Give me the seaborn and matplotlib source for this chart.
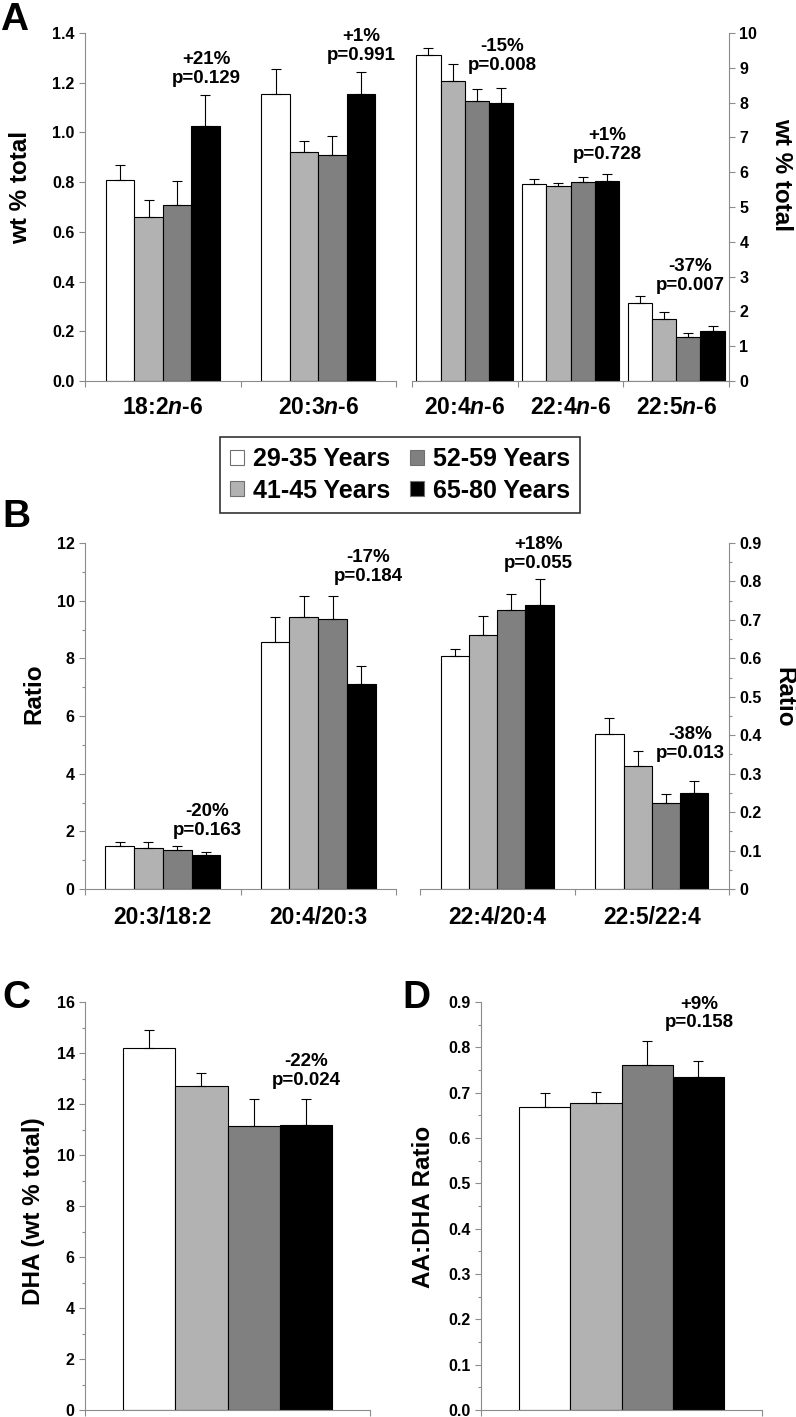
import numpy as np
import pandas as pd
import matplotlib
matplotlib.use("Agg")
import matplotlib.pyplot as plt
import seaborn as sns
from matplotlib.patches import Patch
from matplotlib.container import BarContainer
from matplotlib.ticker import MultipleLocator, FuncFormatter

# ---------------- data ----------------
groups = ["29-35 Years", "41-45 Years", "52-59 Years", "65-80 Years"]
group_colors = ["#ffffff", "#b2b2b2", "#808080", "#000000"]

# Panel A (left axis, wt % total)
a1_cats = ["18:2$\\mathit{n}$-6", "20:3$\\mathit{n}$-6"]
a1_means = [[0.809, 0.661, 0.707, 1.024], [1.153, 0.922, 0.908, 1.153]]
a1_sems = [[0.058, 0.067, 0.098, 0.127], [0.102, 0.043, 0.078, 0.092]]
a1_notes = ["+21%\np=0.129", "+1%\np=0.991"]

# Panel A (right axis, wt % total)
a2_cats = ["20:4$\\mathit{n}$-6", "22:4$\\mathit{n}$-6", "22:5$\\mathit{n}$-6"]
a2_means = [[9.36, 8.63, 8.06, 7.98], [5.66, 5.59, 5.73, 5.75], [2.25, 1.79, 1.27, 1.43]]
a2_sems = [[0.20, 0.47, 0.33, 0.45], [0.14, 0.11, 0.14, 0.20], [0.19, 0.18, 0.11, 0.14]]
a2_notes = ["-15%\np=0.008", "+1%\np=0.728", "-37%\np=0.007"]

# Panel B (left axis, ratio)
b1_cats = ["20:3/18:2", "20:4/20:3"]
b1_means = [[1.48, 1.42, 1.34, 1.17], [8.58, 9.44, 9.35, 7.12]]
b1_sems = [[0.15, 0.21, 0.14, 0.13], [0.84, 0.71, 0.80, 0.62]]
b1_notes = ["-20%\np=0.163", "-17%\np=0.184"]

# Panel B (right axis, ratio)
b2_cats = ["22:4/20:4", "22:5/22:4"]
b2_means = [[0.607, 0.660, 0.725, 0.739], [0.402, 0.320, 0.225, 0.249]]
b2_sems = [[0.016, 0.051, 0.043, 0.067], [0.043, 0.040, 0.022, 0.031]]
b2_notes = ["+18%\np=0.055", "-38%\np=0.013"]

# Panel C (DHA)
c_cats = [""]
c_means = [[14.20, 12.70, 11.13, 11.19]]
c_sems = [[0.69, 0.52, 1.07, 1.01]]
c_notes = ["-22%\np=0.024"]

# Panel D (AA:DHA ratio)
d_cats = [""]
d_means = [[0.669, 0.678, 0.762, 0.735]]
d_sems = [[0.030, 0.023, 0.051, 0.035]]
d_notes = ["+9%\np=0.158"]

# ---------------- style ----------------
sns.set_style("ticks")
plt.rcParams["font.family"] = ["Liberation Sans", "DejaVu Sans"]
plt.rcParams["font.weight"] = "bold"
plt.rcParams["axes.labelweight"] = "bold"
plt.rcParams["text.color"] = "black"
plt.rcParams["axes.labelcolor"] = "black"
plt.rcParams["xtick.labelcolor"] = "black"
plt.rcParams["ytick.labelcolor"] = "black"
plt.rcParams["mathtext.fontset"] = "custom"
plt.rcParams["mathtext.rm"] = "Liberation Sans:bold"
plt.rcParams["mathtext.it"] = "Liberation Sans:italic:bold"
plt.rcParams["mathtext.bf"] = "Liberation Sans:bold"

SPINE = "#8c8c8c"
W, H = 796, 1417
fig = plt.figure(figsize=(W / 100, H / 100), dpi=100)


def px_axes(x0, x1, y0, y1):
    return fig.add_axes([x0 / W, 1 - y1 / H, (x1 - x0) / W, (y1 - y0) / H])


def panel(ax, cats, means, sems, width, ylim, major, minor, fmt, side,
          ylabel, label_xy, notes, note_xy, xlabel_pad=10, tick_fs=11.5):
    rows = []
    for ci, c in enumerate(cats):
        for gi, g in enumerate(groups):
            rows.append({"cat": c, "group": g, "val": means[ci][gi]})
    df = pd.DataFrame(rows)
    sns.barplot(data=df, x="cat", y="val", hue="group", order=cats,
                hue_order=groups, palette=dict(zip(groups, group_colors)),
                saturation=1, width=width, edgecolor="black", linewidth=0.8,
                errorbar=None, legend=False, ax=ax, zorder=2)
    bar_conts = [c for c in ax.containers if isinstance(c, BarContainer)]
    # upper-only error bars at bar positions from the library
    for gi, cont in enumerate(bar_conts):
        for ci, bar in enumerate(cont.patches):
            xc = bar.get_x() + bar.get_width() / 2
            top = bar.get_height()
            ax.errorbar(xc, top, yerr=[[0], [sems[ci][gi]]], fmt="none",
                        ecolor="black", elinewidth=0.8, capsize=3.3,
                        capthick=0.8, zorder=3)
    n = len(cats)
    ax.set_xlim(-0.5, n - 0.5)
    ax.set_ylim(*ylim)
    ax.yaxis.set_major_locator(MultipleLocator(major))
    if minor:
        ax.yaxis.set_minor_locator(MultipleLocator(minor))
    ax.yaxis.set_major_formatter(FuncFormatter(fmt))
    ax.set_xticks(range(n))
    ax.set_xticklabels(cats, fontsize=16.5, fontweight="bold", color="black")
    ax.set_xticks(np.arange(-0.5, n, 1.0), minor=True)
    ax.tick_params(axis="x", which="major", length=0, pad=xlabel_pad)
    ax.tick_params(axis="x", which="minor", length=4, color=SPINE, width=0.8)
    ax.tick_params(axis="y", which="major", length=4, color=SPINE, width=0.8,
                   labelsize=tick_fs, labelcolor="black")
    ax.tick_params(axis="y", which="minor", length=2.5, color=SPINE, width=0.8)
    for lab in ax.get_yticklabels():
        lab.set_fontweight("bold")
    ax.set_xlabel("")
    ax.spines["top"].set_visible(False)
    ax.spines["bottom"].set_color(SPINE)
    ax.spines["bottom"].set_linewidth(0.8)
    if side == "right":
        ax.spines["left"].set_visible(False)
        ax.spines["right"].set_visible(True)
        ax.spines["right"].set_color(SPINE)
        ax.spines["right"].set_linewidth(0.8)
        ax.yaxis.tick_right()
        ax.yaxis.set_label_position("right")
        rot = -90
    else:
        ax.spines["right"].set_visible(False)
        ax.spines["left"].set_color(SPINE)
        ax.spines["left"].set_linewidth(0.8)
        rot = 90
    ax.set_ylabel(ylabel, fontsize=17.5, fontweight="bold", rotation=rot,
                  color="black")
    ax.yaxis.label.set_va("center")
    ax.yaxis.label.set_ha("center")
    ax.yaxis.set_label_coords(*label_xy)
    for txt, (nx, ny) in zip(notes, note_xy):
        ax.text(nx, ny, txt, ha="center", va="center", fontsize=13.5,
                fontweight="bold", linespacing=1.1, multialignment="center",
                color="black")


def fmt1(v, p):
    return f"{v:.1f}"


def fmt0(v, p):
    return f"{v:.0f}"


def fmt_r(v, p):
    return "0" if abs(v) < 1e-9 else f"{v:.1f}"


# Panel A
axA1 = px_axes(85, 396, 33, 381)
panel(axA1, a1_cats, a1_means, a1_sems, 0.733, (0, 1.4), 0.2, None, fmt1, "left",
      "wt % total", (-0.206, 0.555), a1_notes, [(0.278, 1.255), (1.275, 1.348)],
      xlabel_pad=11)
axA2 = px_axes(412, 729, 33, 381)
panel(axA2, a2_cats, a2_means, a2_sems, 0.918, (0, 10), 1, None, fmt0, "right",
      "wt % total", (1.167, 0.592), a2_notes,
      [(0.356, 9.34), (1.345, 6.78), (2.131, 3.02)], xlabel_pad=11)

# Panel B
axB1 = px_axes(85, 396, 543, 889)
panel(axB1, b1_cats, b1_means, b1_sems, 0.74, (0, 12), 2, 1, fmt0, "left",
      "Ratio", (-0.164, 0.564), b1_notes, [(0.285, 2.36), (1.320, 11.17)],
      xlabel_pad=12)
axB2 = px_axes(420, 729, 543, 889)
panel(axB2, b2_cats, b2_means, b2_sems, 0.73, (0, 0.9), 0.1, 0.05, fmt_r, "right",
      "Ratio", (1.178, 0.555), b2_notes, [(0.264, 0.871), (1.248, 0.377)],
      xlabel_pad=12)

# Panel C
axC = px_axes(85, 370, 1002, 1410)
panel(axC, c_cats, c_means, c_sems, 0.73, (0, 16), 2, 1, fmt0, "left",
      "DHA (wt % total)", (-0.179, 0.488), c_notes, [(0.275, 13.29)])

# Panel D
axD = px_axes(481, 762, 1002, 1410)
panel(axD, d_cats, d_means, d_sems, 0.726, (0, 0.9), 0.1, 0.05, fmt1, "left",
      "AA:DHA Ratio", (-0.206, 0.498), d_notes, [(0.276, 0.874)])

# Panel letters
for letter, x, y in [("A", 0, 30), ("B", 2, 527), ("C", 2, 1008), ("D", 402, 1008)]:
    fig.text(x / W, 1 - y / H, letter, fontsize=28, fontweight="bold",
             ha="left", va="baseline", color="black")

# Legend
handles = [Patch(facecolor=c, edgecolor="#707070", linewidth=0.8) for c in group_colors]
leg = fig.legend(handles, groups, ncol=2, loc="center",
                 bbox_to_anchor=(400 / W, 1 - 475 / H),
                 prop={"size": 18, "weight": "bold"},
                 frameon=True, fancybox=False, edgecolor="black",
                 handlelength=0.55, handleheight=0.55, handletextpad=0.35,
                 columnspacing=0.8, labelspacing=0.3, borderpad=0.4)
leg.get_frame().set_linewidth(1.2)
for t in leg.get_texts():
    t.set_color("black")

fig.savefig("out.png", dpi=100)
